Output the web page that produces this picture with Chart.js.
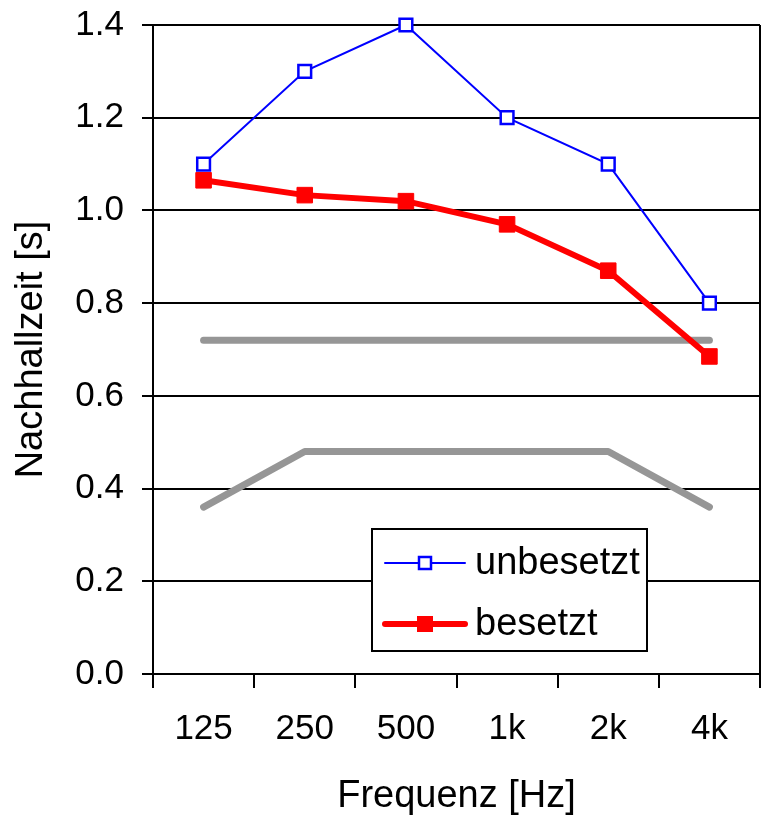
<!DOCTYPE html>
<html>
<head>
<meta charset="utf-8">
<script src="https://cdn.jsdelivr.net/npm/chart.js@4"></script>
<style>
  html, body { margin: 0; padding: 0; background: #fff; overflow: hidden; }
  #wrap { width: 763px; height: 816px; position: relative; }
  canvas { display: block; }
</style>
</head>
<body>
<div id="wrap"><canvas id="chart"></canvas></div>
<script>
const frequencies = ['125', '250', '500', '1k', '2k', '4k'];
const unbesetzt = [1.1, 1.3, 1.4, 1.2, 1.1, 0.8];
const besetzt = [1.065, 1.033, 1.02, 0.97, 0.87, 0.685];
const upperLimit = [0.72, 0.72, 0.72, 0.72, 0.72, 0.72];
const lowerLimit = [0.36, 0.48, 0.48, 0.48, 0.48, 0.36];

const FONT = "'Liberation Sans', Arial, sans-serif";
Chart.defaults.font.family = FONT;
Chart.defaults.font.size = 35;
Chart.defaults.color = '#000';

// legend box drawn inside the plot area, plus the right-hand frame line
const boxLegend = {
  id: 'boxLegend',
  afterDatasetsDraw(chart) {
    const ctx = chart.ctx;
    const area = chart.chartArea;
    ctx.save();
    ctx.strokeStyle = '#000';
    ctx.lineWidth = 2;
    ctx.beginPath();
    ctx.moveTo(area.right, area.top);
    ctx.lineTo(area.right, area.bottom);
    ctx.stroke();

    const bx = 372, by = 529, bw = 275, bh = 122;
    ctx.fillStyle = '#fff';
    ctx.fillRect(bx, by, bw, bh);
    ctx.strokeRect(bx, by, bw, bh);

    const rows = [0, 1].map(i => chart.data.datasets[i]);
    rows.forEach((ds, i) => {
      const y = by + 34 + i * 61;
      ctx.strokeStyle = ds.borderColor;
      ctx.lineWidth = ds.borderWidth;
      ctx.lineCap = 'round';
      ctx.beginPath();
      ctx.moveTo(bx + 13, y);
      ctx.lineTo(bx + 93, y);
      ctx.stroke();
      const s = i === 0 ? 12 : 15;
      ctx.fillStyle = ds.pointBackgroundColor;
      ctx.fillRect(bx + 53 - s / 2, y - s / 2, s, s);
      ctx.lineWidth = i === 0 ? 2.5 : 1;
      ctx.strokeStyle = ds.pointBorderColor;
      ctx.strokeRect(bx + 53 - s / 2, y - s / 2, s, s);
      ctx.fillStyle = '#000';
      ctx.font = '38px ' + FONT;
      ctx.textBaseline = 'middle';
      ctx.textAlign = 'left';
      ctx.fillText(ds.label, bx + 103, y + 1);
    });
    ctx.restore();
  }
};

new Chart(document.getElementById('chart'), {
  type: 'line',
  data: {
    labels: frequencies,
    datasets: [
      {
        label: 'unbesetzt',
        data: unbesetzt,
        borderColor: '#0000ff',
        borderWidth: 2,
        pointStyle: 'rect',
        pointRadius: 9,
        pointBorderWidth: 2.5,
        pointBackgroundColor: '#fff',
        pointBorderColor: '#0000ff',
        clip: false,
        order: 0
      },
      {
        label: 'besetzt',
        data: besetzt,
        borderColor: '#ff0000',
        borderWidth: 6,
        pointStyle: 'rect',
        pointRadius: 11,
        pointBorderWidth: 1,
        pointBackgroundColor: '#ff0000',
        pointBorderColor: '#ff0000',
        clip: false,
        order: 1
      },
      {
        label: 'obere Grenze',
        data: upperLimit,
        borderColor: '#969696',
        borderWidth: 7,
        borderCapStyle: 'round',
        borderJoinStyle: 'round',
        pointRadius: 0,
        order: 2
      },
      {
        label: 'untere Grenze',
        data: lowerLimit,
        borderColor: '#969696',
        borderWidth: 7,
        borderCapStyle: 'round',
        borderJoinStyle: 'round',
        pointRadius: 0,
        order: 3
      }
    ]
  },
  options: {
    responsive: true,
    maintainAspectRatio: false,
    animation: false,
    layout: {
      autoPadding: false,
      padding: { top: 25, right: 3, left: 0, bottom: 0 }
    },
    plugins: {
      legend: { display: false },
      tooltip: { enabled: false }
    },
    scales: {
      x: {
        offset: true,
        grid: {
          offset: true,
          drawOnChartArea: false,
          color: '#000',
          lineWidth: 2,
          tickLength: 14
        },
        border: { color: '#000', width: 2 },
        ticks: { padding: 20, maxRotation: 0 },
        title: {
          display: true,
          text: 'Frequenz [Hz]',
          font: { size: 38, lineHeight: 1 },
          padding: { top: 0, bottom: 0 }
        },
        afterFit(scale) {
          scale.height = 142;
          scale.paddingLeft = 0;
          scale.paddingRight = 0;
        }
      },
      y: {
        min: 0,
        max: 1.4,
        grid: {
          color: '#000',
          lineWidth: 2,
          tickLength: 11
        },
        border: { color: '#000', width: 2 },
        ticks: {
          stepSize: 0.2,
          padding: 18,
          callback: v => v.toFixed(1)
        },
        title: {
          display: true,
          text: 'Nachhallzeit [s]',
          font: { size: 38, lineHeight: 1 },
          padding: { top: 13, bottom: 0 }
        },
        afterFit(scale) {
          scale.width = 153;
          scale.paddingTop = 0;
          scale.paddingBottom = 0;
        }
      }
    }
  },
  plugins: [boxLegend]
});
</script>
</body>
</html>
